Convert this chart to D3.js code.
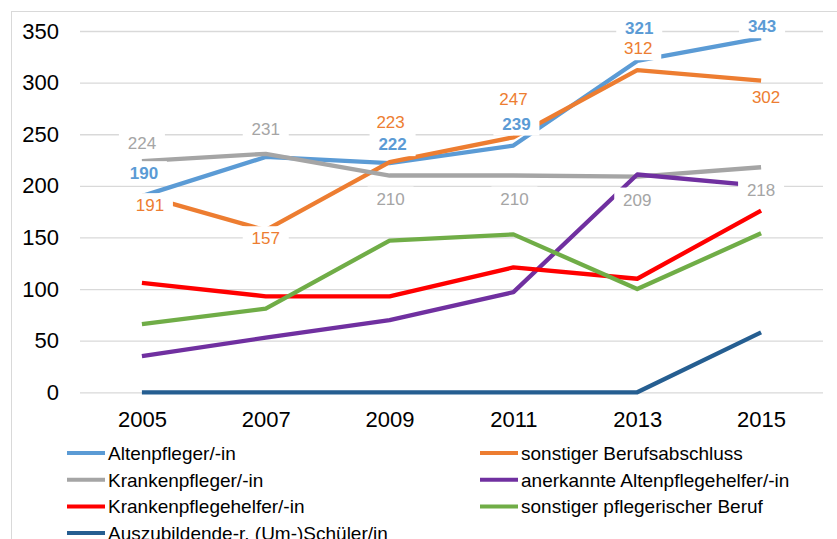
<!DOCTYPE html>
<html>
<head>
<meta charset="utf-8">
<script src="https://cdn.jsdelivr.net/npm/d3@7"></script>
<style>
  body { margin: 0; background: #fff; }
  svg { display: block; font-family: "Liberation Sans", Arial, sans-serif; }
</style>
</head>
<body>
<div id="d3-container"></div>
<script>
// DATA
const years = ["2005", "2007", "2009", "2011", "2013", "2015"];
const seriesNames = [
  "Altenpfleger/-in",
  "sonstiger Berufsabschluss",
  "Krankenpfleger/-in",
  "anerkannte Altenpflegehelfer/-in",
  "Krankenpflegehelfer/-in",
  "sonstiger pflegerischer Beruf",
  "Auszubildende-r. (Um-)Schüler/in"
];
const altenpfleger = [190, 228, 222, 239, 321, 343];
const sonstigerAbschluss = [191, 157, 223, 247, 312, 302];
const krankenpfleger = [224, 231, 210, 210, 209, 218];
const altenpflegehelfer = [35, 53, 70, 97, 211, 200];
const krankenpflegehelfer = [106, 93, 93, 121, 110, 176];
const sonstigerPflegerisch = [66, 81, 147, 153, 100, 154];
const auszubildende = [0, 0, 0, 0, 0, 58];
const yTicks = [0, 50, 100, 150, 200, 250, 300, 350];

// which points carry a value label (by series index)
const labelled = {
  0: ["2005", "2009", "2011", "2013", "2015"],
  1: years,
  2: years
};

// CONSTANTS
const width = 837,
  height = 539,
  colors = ["#5B9BD5", "#ED7D31", "#A5A5A5", "#7030A0", "#FF0000", "#70AD47", "#255E91"];

// label nudges [dx, dy] from the point, per series
const labelOffsets = {
  0: { "2005": [2, -23], "2009": [3, -19], "2011": [3, -22], "2013": [2, -33], "2015": [1, -12] },
  1: { "2005": [8, 10], "2007": [0, 8], "2009": [1, -40], "2011": [0, -38], "2013": [1, -22], "2015": [5, 16] },
  2: { "2005": [0, -18], "2007": [0, -25], "2009": [1, 23], "2011": [1, 23], "2013": [0, 23], "2015": [0, 23] }
};

const allValues = [altenpfleger, sonstigerAbschluss, krankenpfleger, altenpflegehelfer,
  krankenpflegehelfer, sonstigerPflegerisch, auszubildende];

const series = seriesNames.map((name, i) => ({
  name: name,
  color: colors[i],
  values: years.map((y, j) => ({ year: y, value: allValues[i][j] }))
}));

const svg = d3.select("#d3-container")
  .append("svg")
  .attr("width", width)
  .attr("height", height);

svg.append("rect")
  .attr("width", width).attr("height", height)
  .attr("fill", "#fff");

// chart frame (runs off the right/bottom edge like the source)
svg.append("rect")
  .attr("x", 11.5).attr("y", 11.5)
  .attr("width", 900).attr("height", 700)
  .attr("fill", "none")
  .attr("stroke", "#d9d9d9");

// SCALES
const xScale = d3.scalePoint()
  .domain(years)
  .range([80, 823])
  .padding(0.5);

const yScale = d3.scaleLinear()
  .domain([0, 350])
  .range([392.3, 31]);

// AXES
const yAxis = d3.axisLeft(yScale)
  .tickValues(yTicks)
  .tickSize(-(823 - 80))
  .tickPadding(21);

svg.append("g")
  .attr("class", "axis")
  .attr("transform", "translate(80,0)")
  .call(yAxis)
  .call(g => g.select(".domain").remove())
  .call(g => g.selectAll(".tick line").attr("stroke", "#d9d9d9").attr("stroke-width", 1.3))
  .call(g => g.selectAll(".tick text")
    .attr("fill", "#000")
    .style("font-size", "22px")
    .style("font-family", "Liberation Sans, Arial, sans-serif"));

const xAxis = d3.axisBottom(xScale)
  .tickSize(0)
  .tickPadding(19);

svg.append("g")
  .attr("class", "axis")
  .attr("transform", "translate(0,392.3)")
  .call(xAxis)
  .call(g => g.select(".domain").remove())
  .call(g => g.selectAll(".tick text")
    .attr("fill", "#000")
    .style("font-size", "22px")
    .style("font-family", "Liberation Sans, Arial, sans-serif"));

// LINES
const line = d3.line()
  .x(d => xScale(d.year))
  .y(d => yScale(d.value));

svg.append("g")
  .selectAll("path")
  .data(series)
  .join("path")
  .attr("d", d => line(d.values))
  .attr("fill", "none")
  .attr("stroke", d => d.color)
  .attr("stroke-width", 4.3)
  .attr("stroke-linejoin", "round");

// DATA LABELS (white boxes hide lines behind them)
const labelData = [];
Object.keys(labelled).forEach(k => {
  const s = series[+k];
  s.values.forEach(p => {
    if (labelled[k].includes(p.year)) {
      const off = labelOffsets[k][p.year];
      labelData.push({
        text: p.value,
        color: s.color,
        bold: +k === 0,
        x: xScale(p.year) + off[0],
        y: yScale(p.value) + off[1]
      });
    }
  });
});

const labels = svg.append("g")
  .selectAll("g")
  .data(labelData)
  .join("g")
  .attr("transform", d => `translate(${d.x},${d.y})`);

labels.append("rect")
  .attr("x", -23).attr("y", -12)
  .attr("width", 46).attr("height", 24)
  .attr("fill", "#fff");

labels.append("text")
  .attr("text-anchor", "middle")
  .attr("dy", "0.36em")
  .attr("fill", d => d.color)
  .style("font-size", "17px")
  .style("font-weight", d => d.bold ? "bold" : "normal")
  .text(d => d.text);

// LEGEND (two columns, filled row by row)
const legend = svg.append("g")
  .selectAll("g")
  .data(series)
  .join("g")
  .attr("transform", (d, i) => `translate(${i % 2 === 0 ? 67 : 480},${453 + Math.floor(i / 2) * 26.7})`);

legend.append("line")
  .attr("x1", 0).attr("x2", 38)
  .attr("stroke", d => d.color)
  .attr("stroke-width", 4);

legend.append("text")
  .attr("x", 41)
  .attr("dy", "0.36em")
  .attr("fill", "#000")
  .style("font-size", "19px")
  .text(d => d.name);
</script>
</body>
</html>
